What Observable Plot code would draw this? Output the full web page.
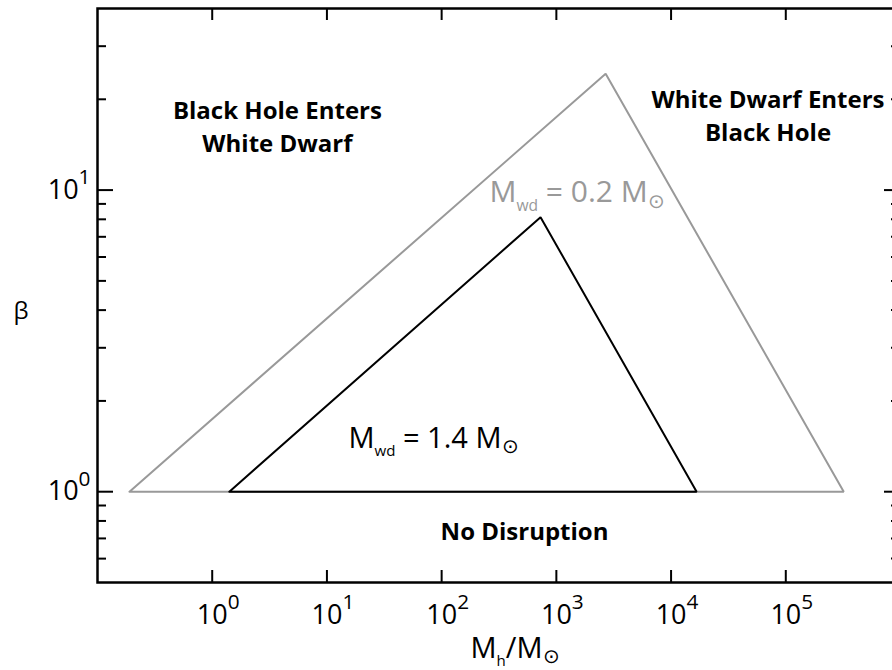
<!DOCTYPE html>
<html>
<head>
<meta charset="utf-8">
<script src="https://cdn.jsdelivr.net/npm/d3@7"></script>
<script src="https://cdn.jsdelivr.net/npm/@observablehq/plot@0.6"></script>
<style>
  html, body { margin: 0; padding: 0; background: white; overflow: hidden; }
  #chart svg { display: block; }
</style>
</head>
<body>
<div id="chart"></div>
<script>
// ---- data ----
// Mwd = 0.2 Msun boundary (closed triangle)
const wd02Mass = [0.19, 2690, 3.2e5, 0.19];
const wd02Beta = [1, 24.3, 1, 1];
// Mwd = 1.4 Msun boundary (closed triangle)
const wd14Mass = [1.41, 728, 1.67e4, 1.41];
const wd14Beta = [1, 8.13, 1, 1];

const xTicks = [1, 10, 100, 1e3, 1e4, 1e5];
const xTickLabels = ["10^{0}", "10^{1}", "10^{2}", "10^{3}", "10^{4}", "10^{5}"];
const yMajor = [1, 10];
const yMajorLabels = ["10^{0}", "10^{1}"];
const yMinor = [0.6, 0.7, 0.8, 0.9, 2, 3, 4, 5, 6, 7, 8, 9, 20, 30];

const regionLabels = ["Black Hole Enters\nWhite Dwarf", "White Dwarf Enters\nBlack Hole", "No Disruption"];
const regionX = [3.7, 7.0e4, 528];
const regionY = [13.4, 14.5, 0.693];

const curveLabels = ["M_{wd} = 0.2 M_{⊙}", "M_{wd} = 1.4 M_{⊙}"];
const curveLabelX = [261, 15.4];
const curveLabelY = [9.1, 1.40];

const xLabel = "M_{h}/M_{⊙}";
const yLabel = "β";

// ---- build ----
const W = 900, H = 670, ML = 97, MR = 0, MT = 8, MB = 88;
const FW = W - ML - MR, FH = H - MT - MB;
const GRAY = "#999";

const tri = (xs, ys) => xs.map((x, i) => ({x, y: ys[i]}));

const plot = Plot.plot({
  width: W, height: H,
  marginLeft: ML, marginRight: MR, marginTop: MT, marginBottom: MB,
  x: {type: "log", domain: [0.1, 1e6], axis: null},
  y: {type: "log", domain: [0.5, 40], axis: null},
  style: {fontFamily: "'Open Sans', sans-serif", background: "white", maxWidth: "none", overflow: "hidden", color: "black"},
  marks: [
    // triangles
    Plot.line(tri(wd02Mass, wd02Beta), {x: "x", y: "y", stroke: GRAY, strokeWidth: 2, strokeLinejoin: "miter"}),
    Plot.line(tri(wd14Mass, wd14Beta), {x: "x", y: "y", stroke: "black", strokeWidth: 2, strokeLinejoin: "miter"}),
    // x ticks bottom & top (inward)
    Plot.tickX(xTicks, {x: d => d, insetTop: FH - 12, stroke: "black", strokeWidth: 2}),
    Plot.tickX(xTicks, {x: d => d, insetBottom: FH - 12, stroke: "black", strokeWidth: 2}),
    // y ticks left & right
    Plot.tickY(yMajor, {y: d => d, insetRight: FW - 16, stroke: "black", strokeWidth: 2}),
    Plot.tickY(yMinor, {y: d => d, insetRight: FW - 9, stroke: "black", strokeWidth: 2}),
    Plot.tickY(yMajor, {y: d => d, insetLeft: FW - 16, stroke: "black", strokeWidth: 2}),
    Plot.tickY(yMinor, {y: d => d, insetLeft: FW - 9, stroke: "black", strokeWidth: 2}),
    Plot.frame({stroke: "black", strokeWidth: 2.5}),
    // tick labels
    Plot.text(xTicks, {x: d => d, text: (d, i) => xTickLabels[i], frameAnchor: "bottom", lineAnchor: "bottom", dy: 41, dx: 6, fontSize: 27, fill: "black"}),
    Plot.text(yMajor, {y: d => d, text: (d, i) => yMajorLabels[i], frameAnchor: "left", textAnchor: "end", lineAnchor: "middle", dx: -7, fontSize: 27, fill: "black"}),
    // axis labels
    Plot.text([xLabel], {frameAnchor: "bottom", textAnchor: "start", lineAnchor: "bottom", dx: 470 - (ML + FW / 2), dy: 75, fontSize: 29, fill: "black"}),
    Plot.text([yLabel], {frameAnchor: "left", textAnchor: "start", lineAnchor: "bottom", dx: 13 - ML, dy: 23, fontSize: 24, fill: "black"}),
    // region labels
    Plot.text(regionLabels, {x: (d, i) => regionX[i], y: (d, i) => regionY[i], text: d => d, lineAnchor: "bottom", lineHeight: 1.38, fontSize: 24, fontWeight: "bold", fill: "black"}),
    // curve labels
    Plot.text([curveLabels[0]], {x: () => curveLabelX[0], y: () => curveLabelY[0], text: d => d, textAnchor: "start", lineAnchor: "bottom", fontSize: 30, fill: GRAY}),
    Plot.text([curveLabels[1]], {x: () => curveLabelX[1], y: () => curveLabelY[1], text: d => d, textAnchor: "start", lineAnchor: "bottom", fontSize: 29, fill: "black"})
  ]
});

document.getElementById("chart").appendChild(plot);

// convert _{..} and ^{..} markup into sub/superscript tspans
function richify(svg) {
  const NS = "http://www.w3.org/2000/svg";
  svg.querySelectorAll("text").forEach(t => {
    const s = t.textContent;
    if (!/[_^]\{/.test(s)) return;
    const fs = parseFloat(getComputedStyle(t).fontSize) || 16;
    t.textContent = "";
    const re = /([_^])\{([^}]*)\}|([^_^]+)/g;
    let m, shift = 0;
    while ((m = re.exec(s))) {
      const ts = document.createElementNS(NS, "tspan");
      let target = 0;
      if (m[1]) {
        const sup = m[1] === "^";
        const sun = m[2] === "⊙";
        const size = sup ? 0.77 : sun ? 0.68 : 0.52;
        target = sup ? -0.54 * fs : sun ? 0.18 * fs : 0.3 * fs;
        ts.setAttribute("font-size", (size * fs).toFixed(2));
        ts.textContent = m[2];
      } else {
        ts.textContent = m[3];
      }
      const d = target - shift;
      if (d) ts.setAttribute("dy", d.toFixed(2));
      shift = target;
      t.appendChild(ts);
    }
  });
}
richify(plot);
</script>
</body>
</html>
